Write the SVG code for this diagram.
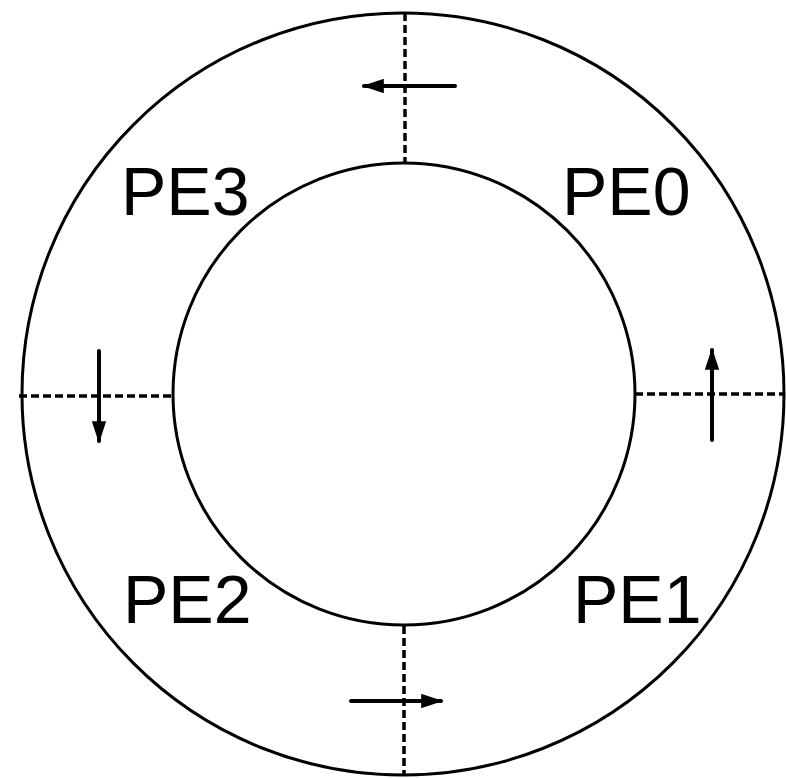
<svg xmlns="http://www.w3.org/2000/svg" width="786" height="778" viewBox="0 0 786 778">
<style>
.ring{fill:none;stroke:#000;stroke-width:3}
.dash{stroke:#000;stroke-width:3.5;stroke-dasharray:8 4}
.arr{stroke:#000;stroke-width:4;stroke-linecap:round}
.lbl{font-family:"Liberation Sans",Arial,sans-serif;font-size:68px;fill:#000}
</style>
<defs>
<marker id="ah" viewBox="0 0 10 10" refX="9" refY="5" markerWidth="5.5" markerHeight="3.6" orient="auto" markerUnits="strokeWidth" preserveAspectRatio="none">
<path d="M0,0 L10,5 L0,10 Z" fill="#000"/>
</marker>
</defs>
<rect width="786" height="778" fill="#fff"/>
<g id="rings">
<circle class="ring" cx="403" cy="394" r="381"/>
<circle class="ring" cx="404" cy="394" r="231"/>
</g>
<g id="connectors">
<line class="dash" x1="405" y1="13" x2="405" y2="163"/>
<line class="dash" x1="19" y1="396" x2="173" y2="396"/>
<line class="dash" x1="635" y1="394" x2="784" y2="394"/>
<line class="dash" x1="404" y1="626" x2="404" y2="776"/>
<line class="arr" x1="455" y1="86" x2="364" y2="86" marker-end="url(#ah)"/>
<line class="arr" x1="99" y1="351" x2="99" y2="441" marker-end="url(#ah)"/>
<line class="arr" x1="712" y1="440" x2="712" y2="350" marker-end="url(#ah)"/>
<line class="arr" x1="351" y1="701" x2="441" y2="701" marker-end="url(#ah)"/>
</g>
<g id="PE0"><text class="lbl" x="562" y="215">PE0</text></g>
<g id="PE1"><text class="lbl" x="573" y="623">PE1</text></g>
<g id="PE2"><text class="lbl" x="123" y="623">PE2</text></g>
<g id="PE3"><text class="lbl" x="121" y="215">PE3</text></g>
</svg>
